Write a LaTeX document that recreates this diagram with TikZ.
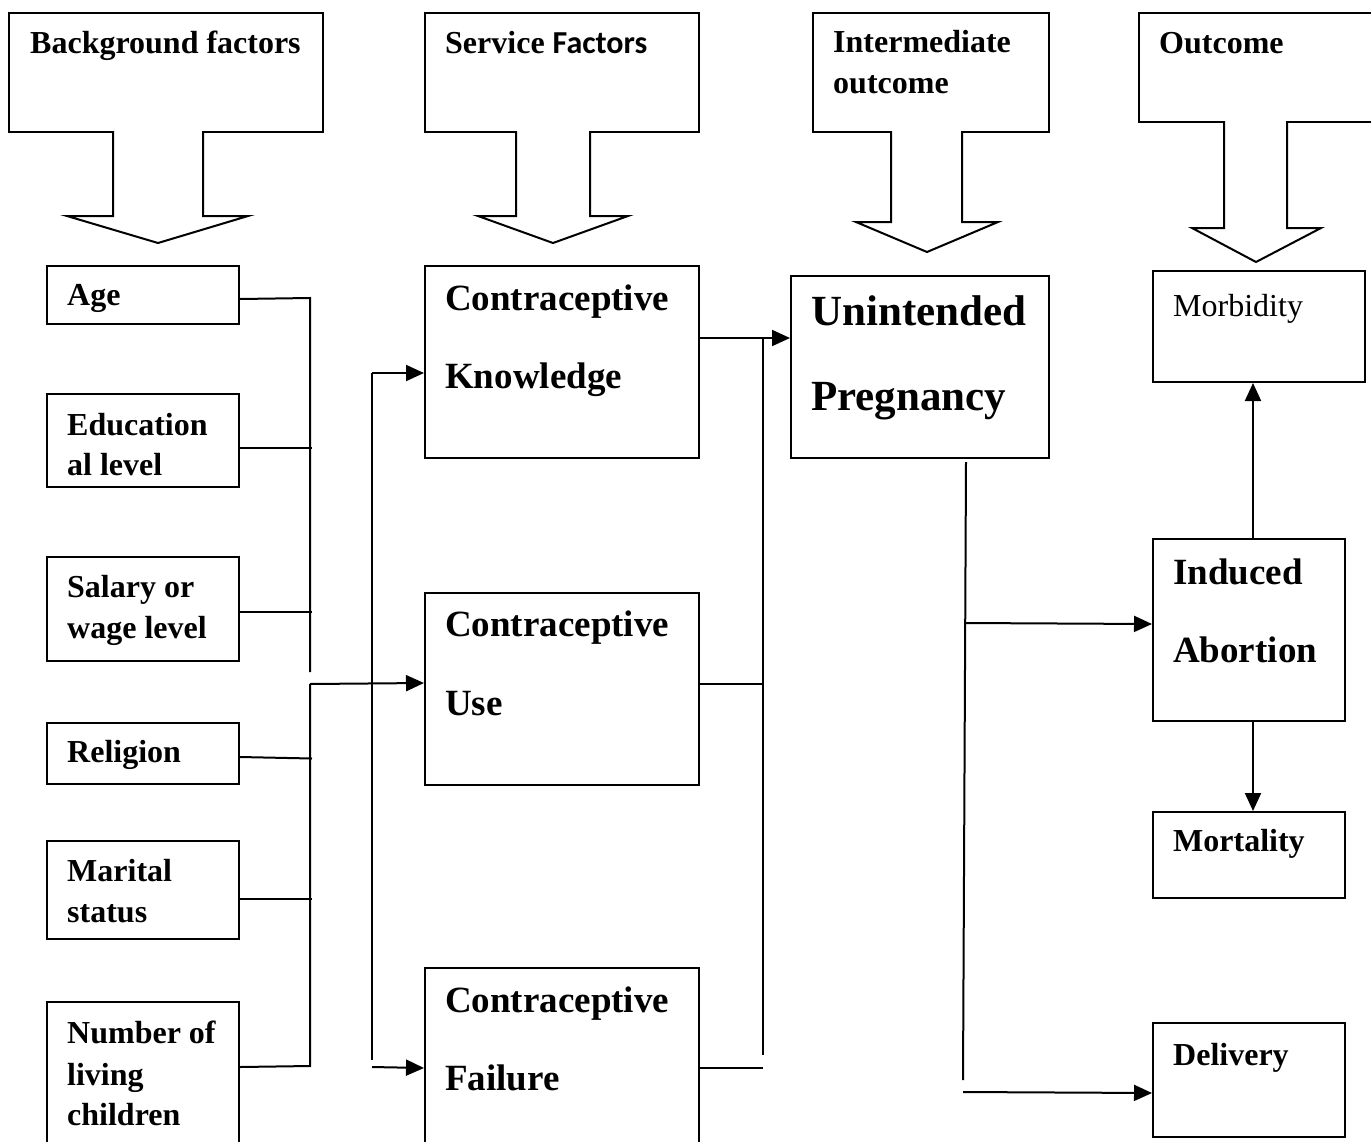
\documentclass[tikz,border=0pt]{standalone}
\usepackage{fontspec}
\setmainfont{Liberation Serif}
\newfontfamily\calib{Carlito}
\usetikzlibrary{arrows.meta}
\begin{document}
\begin{tikzpicture}[x=1pt,y=-1pt,
  box/.style={draw,line width=2pt,anchor=north west,inner sep=0pt},
  lbl/.style={anchor=base west,inner sep=0pt,font=\bfseries\fontsize{32}{38}\selectfont},
  lblbig/.style={anchor=base west,inner sep=0pt,font=\bfseries\fontsize{37}{44}\selectfont},
  conn/.style={line width=2pt},
  arr/.style={line width=2pt,-{Triangle[length=18pt,width=16pt]}},
  blockarrow/.style={draw,line width=2pt,fill=white,line join=miter}]
\clip (0,0) rectangle (1371,1141);
\fill[white] (0,0) rectangle (1371,1141);

% header boxes
\node[box,minimum width=314,minimum height=119] (hbg) at (8,12) {};
\node[box,minimum width=274,minimum height=119] (hsv) at (424,12) {};
\node[box,minimum width=236,minimum height=119] (him) at (812,12) {};
\node[box,minimum width=240,minimum height=109] (hout) at (1138,12) {};
\node[lbl] (hbgT) at (30,53) {Background factors};
\node[lbl] (hsvT) at (445,53) {Service {\calib Factors}};
\node[lbl] (himT) at (833,52) {Intermediate};
\node[lbl] (himT2) at (833,93) {outcome};
\node[lbl] (houtT) at (1159,53) {Outcome};

% block arrows
\draw[blockarrow] (113,131) -- (113,216) -- (67,216) -- (158,243) -- (248,216) -- (203,216) -- (203,131);
\draw[blockarrow] (516,131) -- (516,216) -- (478,216) -- (553,243) -- (628,216) -- (590,216) -- (590,131);
\draw[blockarrow] (891,131) -- (891,222) -- (856,222) -- (927,252) -- (998,222) -- (962,222) -- (962,131);
\draw[blockarrow] (1224,121) -- (1224,228) -- (1192,228) -- (1256,262) -- (1321,228) -- (1287,228) -- (1287,121);

% left column
\node[box,minimum width=192,minimum height=58] (age) at (46,265) {};
\node[box,minimum width=192,minimum height=93] (edu) at (46,393) {};
\node[box,minimum width=192,minimum height=104] (sal) at (46,556) {};
\node[box,minimum width=192,minimum height=61] (rel) at (46,722) {};
\node[box,minimum width=192,minimum height=98] (mar) at (46,840) {};
\node[box,minimum width=192,minimum height=160] (num) at (46,1001) {};
\node[lbl] (ageT) at (67,305) {Age};
\node[lbl] (eduT) at (67,435) {Education};
\node[lbl] (eduT2) at (67,475) {al level};
\node[lbl] (salT) at (67,597) {Salary or};
\node[lbl] (salT2) at (67,638) {wage level};
\node[lbl] (relT) at (67,762) {Religion};
\node[lbl] (marT) at (67,881) {Marital};
\node[lbl] (marT2) at (67,922) {status};
\node[lbl] (numT) at (67,1043) {Number of};
\node[lbl] (numT2) at (67,1085) {living};
\node[lbl] (numT3) at (67,1125) {children};

% middle column
\node[box,minimum width=274,minimum height=192] (know) at (424,265) {};
\node[box,minimum width=274,minimum height=192] (use) at (424,592) {};
\node[box,minimum width=274,minimum height=200] (fail) at (424,967) {};
\node[lblbig] (knowT) at (445,310) {Contraceptive};
\node[lblbig] (knowT2) at (445,388) {Knowledge};
\node[lblbig] (useT) at (445,636) {Contraceptive};
\node[lblbig] (useT2) at (445,715) {Use};
\node[lblbig] (failT) at (445,1012) {Contraceptive};
\node[lblbig] (failT2) at (445,1090) {Failure};

% intermediate
\node[box,minimum width=258,minimum height=182] (preg) at (790,275) {};
\node[anchor=base west,inner sep=0pt,font=\bfseries\fontsize{43}{50}\selectfont] (pregT) at (811,325) {Unintended};
\node[anchor=base west,inner sep=0pt,font=\bfseries\fontsize{43}{50}\selectfont] (pregT2) at (811,410) {Pregnancy};

% outcomes
\node[box,minimum width=212,minimum height=111] (morb) at (1152,270) {};
\node[box,minimum width=192,minimum height=182] (ind) at (1152,538) {};
\node[box,minimum width=192,minimum height=86] (mort) at (1152,811) {};
\node[box,minimum width=192,minimum height=114] (deliv) at (1152,1022) {};
\node[anchor=base west,inner sep=0pt,font=\fontsize{32}{38}\selectfont] (morbT) at (1173,316) {Morbidity};
\node[lblbig] (indT) at (1173,584) {Induced};
\node[lblbig] (indT2) at (1173,662) {Abortion};
\node[lbl] (mortT) at (1173,851) {Mortality};
\node[lbl] (delivT) at (1173,1065) {Delivery};

% bus coordinates
\coordinate (busA) at (310,298);
\coordinate (busAend) at (310,672);
\coordinate (busB) at (310,684);
\coordinate (busBend) at (310,1066);
\coordinate (busC) at (372,373);
\coordinate (busCend) at (372,1060);
\coordinate (busCf) at (372,1067);
\coordinate (busD) at (763,337);
\coordinate (busDend) at (763,1055);
\coordinate (pregTop) at (966,462);
\coordinate (pregBot) at (963,1080);
\coordinate (pregA) at (966,623);
\coordinate (pregD) at (963,1092);

% left connectors
\draw[conn] ([yshift=-4pt]age.east) -- (busA) -- (busAend);
\draw[conn] ([yshift=-7.5pt]edu.east) -- ++(72,0);
\draw[conn] ([yshift=-3pt]sal.east) -- ++(72,0);
\draw[conn] ([yshift=-3.5pt]rel.east) -- ++(72,1.5);
\draw[conn] ([yshift=-9pt]mar.east) -- ++(72,0);
\draw[conn] ([yshift=15pt]num.east) -- (busBend) -- (busB);
\draw[arr] (busB) -- ([yshift=6pt]use.west);
\draw[conn] (busCend) -- (busC);
\draw[arr] (busC) -- (busC -| know.west);
\draw[arr] (busCf) -- (fail.west);

% middle to intermediate
\draw[arr] ([yshift=24pt]know.east) -- ([yshift=29pt]preg.west);
\draw[conn] (busD) -- (busDend);
\draw[conn] ([yshift=5pt]use.east) coordinate (ue) -- (ue -| busD);
\draw[conn] (fail.east) -- (fail.east -| busD);

% intermediate to outcomes
\draw[conn] (pregTop) -- (pregBot);
\draw[arr] (pregA) -- ([yshift=6pt]ind.west);
\draw[arr] (pregD) -- ([yshift=-13pt]deliv.west);
\draw[arr] ([xshift=4pt]ind.north) -- ([xshift=-6pt]morb.south);
\draw[arr] ([xshift=4pt]ind.south) -- ([xshift=4pt]mort.north);
\end{tikzpicture}
\end{document}
